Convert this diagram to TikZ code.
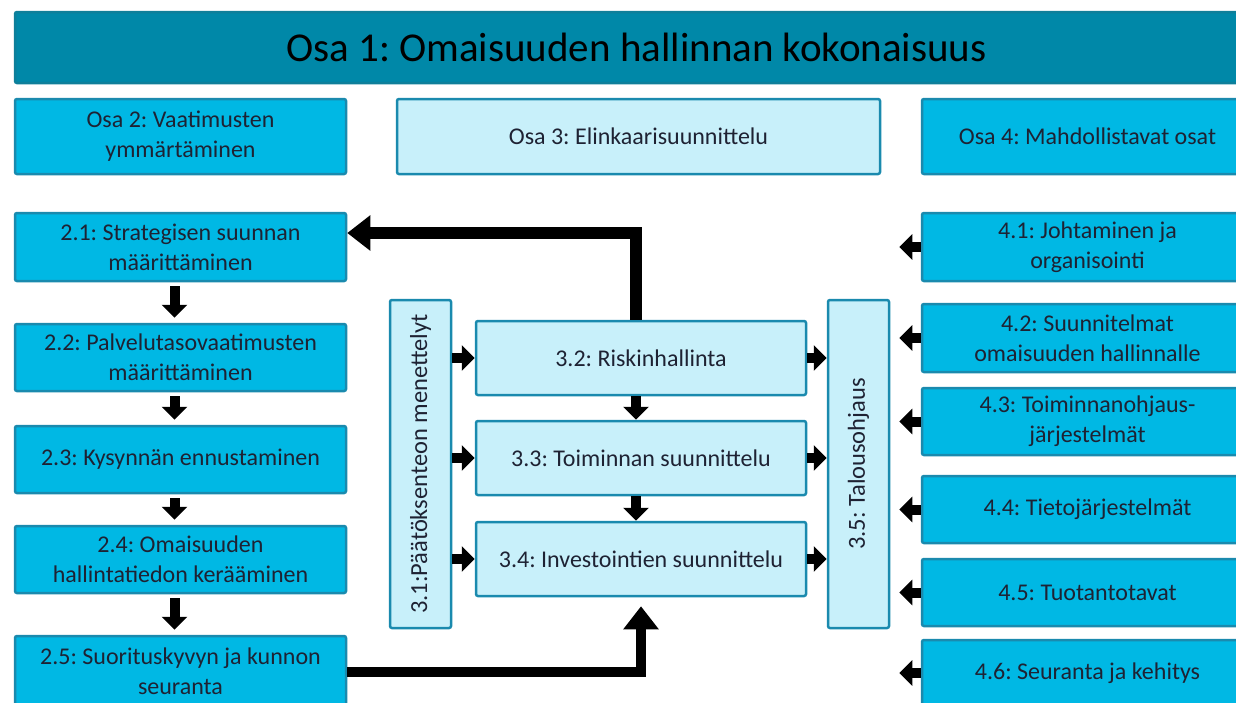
\documentclass[tikz,border=0pt]{standalone}
\usepackage{fontspec}
\setmainfont{Carlito}
\usetikzlibrary{arrows.meta}
\definecolor{barcol}{HTML}{0088A8}
\definecolor{barline}{HTML}{0E7F9A}
\definecolor{midcol}{HTML}{00B8E4}
\definecolor{lightcol}{HTML}{C8F0FA}
\definecolor{boxline}{HTML}{1A8AAE}
\definecolor{txtcol}{HTML}{1E2233}
\frenchspacing
\tikzset{
  osabox/.style={draw=boxline, line width=2.5pt, rounded corners=2pt, inner sep=0pt, align=center, text=txtcol, font=\fontsize{24}{30}\selectfont},
  midbox/.style={osabox, fill=midcol, minimum width=331pt},
  lightbox/.style={osabox, fill=lightcol},
  rottext/.style={rotate=90, text=txtcol, font=\fontsize{24.5}{30}\selectfont},
  smallarrow/.style={line width=10pt, -{Triangle[length=13pt,width=25pt]}},
  bigarrow/.style={line width=12pt, -{Triangle[length=23pt,width=34pt]}}
}
\begin{document}
\begin{tikzpicture}[x=1pt,y=-1pt]
\useasboundingbox (0,0) rectangle (1236,702);
\node[osabox, fill=barcol, draw=barline, text=black, minimum width=1243pt, minimum height=71pt, font=\fontsize{41}{48}\selectfont] (osa1) at (636.5,47.5) {Osa 1: Omaisuuden hallinnan kokonaisuus};
\node[midbox, minimum height=75pt] (osa2) at (180.5,136.5) {Osa 2: Vaatimusten\\ymmärtäminen};
\node[lightbox, minimum width=483pt, minimum height=75pt] (osa3) at (638.5,136.5) {Osa 3: Elinkaarisuunnittelu};
\node[midbox, minimum height=75pt] (osa4) at (1087.5,136.5) {Osa 4: Mahdollistavat osat};
\node[midbox, minimum height=68pt] (p21) at (180.5,247) {2.1: Strategisen suunnan\\määrittäminen};
\node[midbox, minimum height=67pt] (p22) at (180.5,357.5) {2.2: Palvelutasovaatimusten\\määrittäminen};
\node[midbox, minimum height=67pt] (p23) at (180.5,459.5) {2.3: Kysynnän ennustaminen};
\node[midbox, minimum height=67pt] (p24) at (180.5,559.5) {2.4: Omaisuuden\\hallintatiedon kerääminen};
\node[midbox, minimum height=70pt] (p25) at (180.5,671) {2.5: Suorituskyvyn ja kunnon\\seuranta};
\node[lightbox, minimum width=61pt, minimum height=328pt, label={[rottext]center:3.1:Päätöksenteon menettelyt}] (p31) at (420.5,464) {};
\node[lightbox, minimum width=330pt, minimum height=74pt] (p32) at (641,358) {3.2: Riskinhallinta};
\node[lightbox, minimum width=330pt, minimum height=74pt] (p33) at (641,458) {3.3: Toiminnan suunnittelu};
\node[lightbox, minimum width=330pt, minimum height=74pt] (p34) at (641,559) {3.4: Investointien suunnittelu};
\node[lightbox, minimum width=61pt, minimum height=328pt, label={[rottext]center:3.5: Talousohjaus}] (p35) at (858.5,464) {};
\node[midbox, minimum height=68pt] (p41) at (1087.5,247) {4.1: Johtaminen ja\\organisointi};
\node[midbox, minimum height=68pt] (p42) at (1087.5,338) {4.2: Suunnitelmat\\omaisuuden hallinnalle};
\node[midbox, minimum height=67pt] (p43) at (1087.5,421.5) {4.3: Toiminnanohjaus-\\järjestelmät};
\node[midbox, minimum height=67pt] (p44) at (1087.5,509.5) {4.4: Tietojärjestelmät};
\node[midbox, minimum height=67pt] (p45) at (1087.5,592.5) {4.5: Tuotantotavat};
\node[midbox, minimum height=66pt] (p46) at (1087.5,673) {4.6: Seuranta ja kehitys};
\foreach \a/\b in {p21/p22,p22/p23,p23/p24,p24/p25}
  \draw[smallarrow, shorten <=4pt, shorten >=5pt] ([xshift=-6pt]\a.south) -- ([xshift=-6pt]\b.north);
\foreach \a/\b in {p32/p33,p33/p34}
  \draw[smallarrow] ([xshift=-5pt]\a.south) -- ([xshift=-5pt]\b.north);
\foreach \b in {p32,p33,p34} {
  \draw[smallarrow] (p31.east |- \b.west) -- (\b.west);
  \draw[smallarrow] (\b.east) -- (p35.west |- \b.east);
}
\foreach \a in {p41,p42,p43,p44,p45,p46}
  \draw[smallarrow] (\a.west) -- ([xshift=9pt]p35.east |- \a.west);
\draw[bigarrow] ([xshift=-5pt]p32.north) |- ([yshift=14pt]p21.east);
\draw[bigarrow, line width=10pt, shorten >=9pt] ([yshift=-1pt]p25.east) -| (p34.south);
\end{tikzpicture}
\end{document}
